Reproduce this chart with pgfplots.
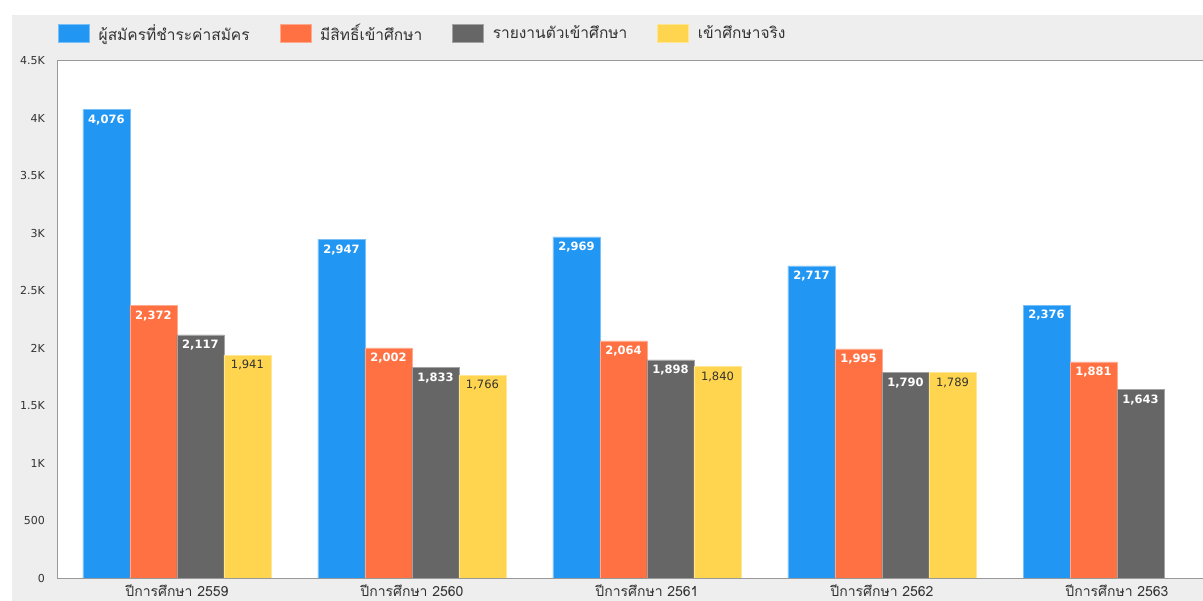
\documentclass[border=0pt]{standalone}
\usepackage{pgfplots}
\pgfplotsset{compat=1.18}
\usepackage{fontspec}
\setmainfont{DejaVu Sans}
\newfontfamily\thai[Script=Thai]{Loma}
\definecolor{cblue}{HTML}{2196F3}
\definecolor{corange}{HTML}{FF7043}
\definecolor{cgray}{HTML}{666666}
\definecolor{cyellow}{HTML}{FFD54F}
\definecolor{bg}{HTML}{EEEEEE}
\definecolor{txt}{HTML}{333333}
\definecolor{axl}{HTML}{999999}
\pgfplotsset{
  legbox/.style={legend image code/.code={\fill[##1] (0bp,-9bp) rectangle (31bp,9bp);}},
}
\begin{document}
\begin{tikzpicture}[x=1bp,y=1bp]
\path[use as bounding box] (-58bp,-23bp) rectangle (1145bp,578bp);
\fill[bg] (-46bp,-23bp) rectangle (1145bp,563bp);
\begin{axis}[
  at={(0bp,0bp)}, anchor=south west,
  scale only axis, width=1145bp, height=517bp,
  axis background/.style={fill=white},
  axis line style={draw=none},
  ybar=0pt, bar width=47bp,
  xmin=-0.506, xmax=4.366,
  ymin=0, ymax=4500,
  xtick={0,1,2,3,4},
  xticklabels={ปีการศึกษา 2559,ปีการศึกษา 2560,ปีการศึกษา 2561,ปีการศึกษา 2562,ปีการศึกษา 2563},
  xticklabel style={font=\thai\fontsize{14bp}{16bp}\selectfont, text=txt, inner sep=0pt, yshift=-6bp},
  ytick={0,500,1000,1500,2000,2500,3000,3500,4000,4500},
  yticklabels={0,500,1K,1.5K,2K,2.5K,3K,3.5K,4K,4.5K},
  yticklabel style={font=\fontsize{11bp}{13bp}\selectfont, text=txt, inner sep=0pt, xshift=-13bp},
  /pgf/number format/assume math mode=true,
  /pgf/number format/fixed,
  /pgf/number format/1000 sep={,},
  major tick length=0pt,
  tick style={draw=none},
  nodes near coords,
  point meta=y,
  every node near coord/.append style={anchor=north, yshift=-3bp, font=\bfseries\fontsize{11.5bp}{13bp}\selectfont, text=white, inner sep=2bp},
  legend style={at={(0,1)}, anchor=west, yshift=28bp, draw=none, fill=none, inner sep=0pt,
    font=\thai\fontsize{15.5bp}{17bp}\selectfont, text=txt,
    nodes={inner sep=0pt},
    /tikz/every odd column/.append style={column sep=9bp},
    /tikz/every even column/.append style={column sep=30bp}},
  legend columns=-1,
  clip=false,
]
\addplot[fill=cblue, draw=cblue!60!white, line width=0.5bp, legbox] coordinates {(0,4076) (1,2947) (2,2969) (3,2717) (4,2376)};
\addplot[fill=corange, draw=corange!60!white, line width=0.5bp, legbox] coordinates {(0,2372) (1,2002) (2,2064) (3,1995) (4,1881)};
\addplot[fill=cgray, draw=cgray!60!white, line width=0.5bp, legbox] coordinates {(0,2117) (1,1833) (2,1898) (3,1790) (4,1643)};
\addplot[fill=cyellow, draw=cyellow!60!white, line width=0.5bp, legbox,
  every node near coord/.append style={text=txt, font=\fontsize{11.5bp}{13bp}\selectfont}] coordinates {(0,1941) (1,1766) (2,1840) (3,1789)};
\legend{ผู้สมัครที่ชำระค่าสมัคร,มีสิทธิ์เข้าศึกษา,รายงานตัวเข้าศึกษา,เข้าศึกษาจริง}
\draw[axl, line width=1bp] (rel axis cs:1,1) -- (rel axis cs:0,1) -- (rel axis cs:0,0) -- (rel axis cs:1,0);
\end{axis}
\end{tikzpicture}
\end{document}
